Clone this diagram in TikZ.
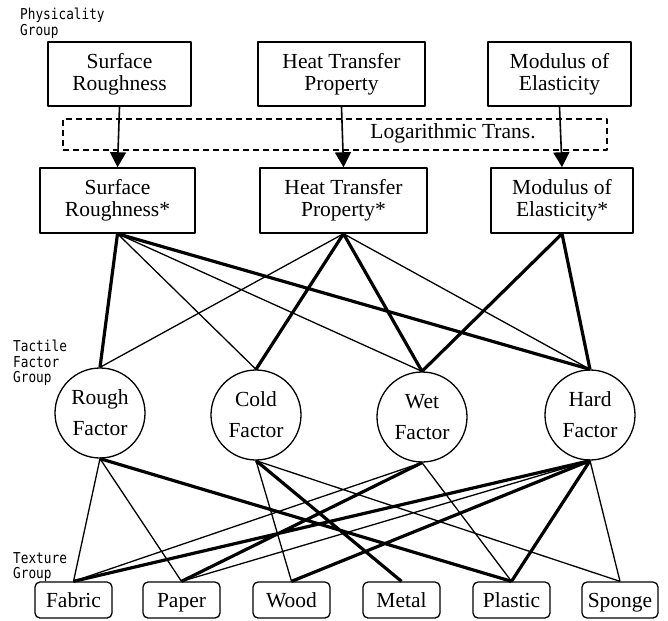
\documentclass[tikz,border=0pt]{standalone}
\usepackage{fontspec}
\setmainfont{Liberation Serif}
\newfontfamily\groupfont[FakeStretch=0.85]{DejaVu Sans Mono}
\usetikzlibrary{arrows.meta}
\begin{document}
\begin{tikzpicture}[x=1pt, y=-1pt, font=\fontsize{21.5}{22}\selectfont, line join=round, >={Triangle[length=15pt,width=16pt]},
  physbox/.style={draw, line width=1.5pt, align=center, inner sep=0pt, minimum height=64},
  factor/.style={circle, draw, line width=1.3pt, minimum size=90, inner sep=0pt, align=center, font=\fontsize{21.5}{31}\selectfont},
  texbox/.style={draw, rounded corners=5pt, line width=1.3pt, minimum width=77, minimum height=36, text height=15, text depth=1, inner sep=0pt},
  grouplabel/.style={anchor=north west, align=left, inner sep=0pt, font=\groupfont\fontsize{15}{15.5}\selectfont},
  weak/.style={line width=1.3pt},
  strong/.style={line width=3.2pt}]
\useasboundingbox (0,0) rectangle (668,620);
% physicality group
\node[grouplabel] (physlbl) at (20,8) {Physicality\\Group};
\node[physbox, minimum width=143] (sr) at (119.5,74) {Surface\\Roughness};
\node[physbox, minimum width=167] (ht) at (341.5,74) {Heat Transfer\\Property};
\node[physbox, minimum width=143] (me) at (559.5,74) {Modulus of\\Elasticity};
\node[draw, dashed, dash pattern=on 6pt off 4pt, line width=1.3pt, minimum width=544, minimum height=31, inner sep=0pt] (logbox) at (335,134.5) {};
\node (logtxt) at (453,133) {Logarithmic Trans.};
\node[physbox, minimum width=155, minimum height=65] (srs) at (117.5,200.5) {Surface\\Roughness*};
\node[physbox, minimum width=167, minimum height=65] (hts) at (343.5,200.5) {Heat Transfer\\Property*};
\node[physbox, minimum width=142, minimum height=65] (mes) at (562,200.5) {Modulus of\\Elasticity*};
\draw[->, line width=1.6pt] (sr.south) -- (srs.north);
\draw[->, line width=1.6pt] (ht.south) -- (hts.north);
\draw[->, line width=1.6pt] (me.south) -- (mes.north);
% tactile factor group
\node[grouplabel] (taclbl) at (13,340) {Tactile\\Factor\\Group};
\node[factor] (rough) at (100,413) {Rough\\Factor};
\node[factor] (cold) at (256,415) {Cold\\Factor};
\node[factor] (wet) at (422,417) {Wet\\Factor};
\node[factor] (hard) at (590,415) {Hard\\Factor};
% texture group
\node[grouplabel] (texlbl) at (13,552) {Texture\\Group};
\node[texbox] (fabric) at (73.5,600) {Fabric};
\node[texbox] (paper) at (181.5,600) {Paper};
\node[texbox] (wood) at (291.5,600) {Wood};
\node[texbox] (metal) at (401.5,600) {Metal};
\node[texbox] (plastic) at (511.5,600) {Plastic};
\node[texbox, minimum width=76] (sponge) at (620,600) {Sponge};
% physicality -> factors
\draw[strong] (srs.south) -- (rough.north) (srs.south) -- (hard.north)
  (hts.south) -- (cold.north) (hts.south) -- (wet.north)
  (mes.south) -- (wet.north) (mes.south) -- (hard.north);
\draw[weak] (srs.south) -- (cold.north) (srs.south) -- (wet.north)
  (hts.south) -- (rough.north) (hts.south) -- (hard.north);
% factors -> textures
\draw[strong] (rough.south) -- (plastic.north) (cold.south) -- (metal.north)
  (wet.south) -- (paper.north)
  (hard.south) -- (fabric.north) (hard.south) -- (wood.north) (hard.south) -- (plastic.north);
\draw[weak] (rough.south) -- (fabric.north) (rough.south) -- (paper.north)
  (cold.south) -- (wood.north) (cold.south) -- (sponge.north)
  (wet.south) -- (fabric.north) (wet.south) -- (plastic.north)
  (hard.south) -- (paper.north) (hard.south) -- (sponge.north);
\end{tikzpicture}
\end{document}
